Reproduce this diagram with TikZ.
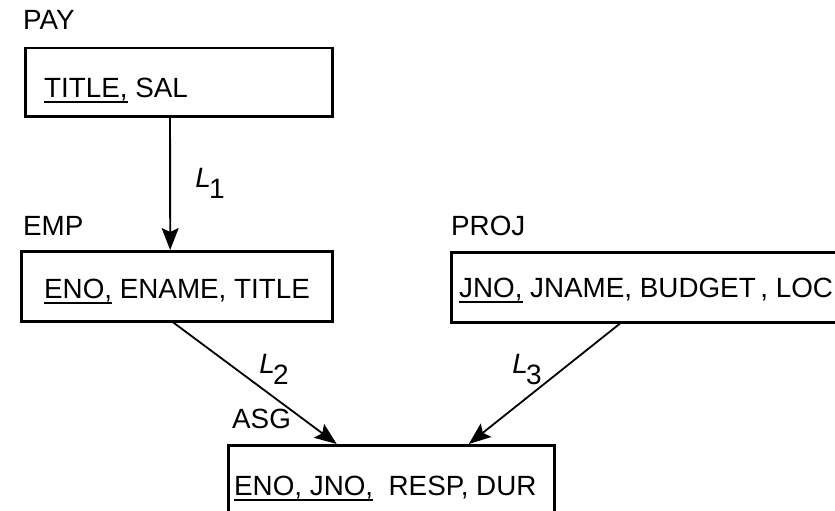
\documentclass[tikz,border=0pt]{standalone}
\usepackage{fontspec}
\setmainfont{Liberation Sans}
\usetikzlibrary{arrows.meta,calc}
\newcommand\ukey[1]{\setbox0\hbox{#1}\rlap{\rule[-6pt]{\wd0}{1.6pt}}\box0\relax}
\newcommand\lnk[1]{\textit{L}\kern-2pt\raisebox{-11pt}{#1}}
\begin{document}
\begin{tikzpicture}[x=1pt,y=-1pt,
  box/.style={draw, line width=2.5pt, rectangle, inner sep=0pt, anchor=north west},
  txt/.style={inner sep=0pt, anchor=base west, font=\fontsize{27.8}{30}\selectfont},
  lbl/.style={inner sep=0pt, font=\fontsize{28}{30}\selectfont},
  arr/.style={line width=1.8pt, -{Stealth[length=22pt,width=17pt,inset=4pt]}}]
\clip (0,0) rectangle (835,511);
\fill[white] (0,0) rectangle (835,511);
% boxes
\node[box, minimum width=307pt, minimum height=68pt] (pay) at (24,47) {};
\node[box, minimum width=311pt, minimum height=70pt] (emp) at (20,250) {};
\node[box, minimum width=400pt, minimum height=70pt] (proj) at (450,251) {};
\node[box, minimum width=326pt, minimum height=90pt] (asg) at (227,444) {};
% titles
\node[txt] (paylbl) at (23,30) {PAY};
\node[txt] (emplbl) at (23,235) {EMP};
\node[txt] (projlbl) at (451,235) {PROJ};
\node[txt] (asglbl) at (232,428) {ASG};
% contents
\node[txt] (paytxt) at (44,97) {\ukey{TITLE,} SAL};
\node[txt] (emptxt) at (44,298) {\ukey{ENO,} ENAME, TITLE};
\node[txt] (projtxt) at (459,297) {\ukey{JNO,} JNAME, BUDGET\,, LOC};
\node[txt] (asgtxt) at (234,495) {\ukey{ENO, JNO,}\ \ RESP, DUR};
% connectors
\draw[arr] ($(pay.south west)!0.472!(pay.south east)$) -- ($(emp.north west)!0.479!(emp.north east)$);
\draw[arr] ($(emp.south west)!0.489!(emp.south east)$) -- ($(asg.north west)!0.334!(asg.north east)$);
\draw[arr] ($(proj.south west)!0.4225!(proj.south east)$) -- ($(asg.north west)!0.736!(asg.north east)$);
% link labels
\node[lbl] (l1) at (210,183) {\lnk{1}};
\node[lbl] (l2) at (274,369) {\lnk{2}};
\node[lbl] (l3) at (527,370) {\lnk{3}};
\end{tikzpicture}
\end{document}
